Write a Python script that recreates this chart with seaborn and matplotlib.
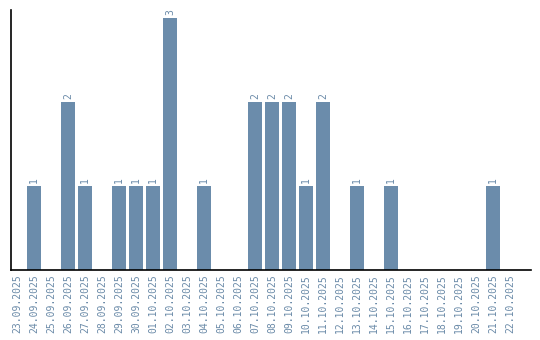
import matplotlib
matplotlib.use("Agg")
import matplotlib.pyplot as plt
import seaborn as sns
import pandas as pd

dates = ["23.09.2025", "24.09.2025", "25.09.2025", "26.09.2025", "27.09.2025", "28.09.2025",
         "29.09.2025", "30.09.2025", "01.10.2025", "02.10.2025", "03.10.2025", "04.10.2025",
         "05.10.2025", "06.10.2025", "07.10.2025", "08.10.2025", "09.10.2025", "10.10.2025",
         "11.10.2025", "12.10.2025", "13.10.2025", "14.10.2025", "15.10.2025", "16.10.2025",
         "17.10.2025", "18.10.2025", "19.10.2025", "20.10.2025", "21.10.2025", "22.10.2025"]
counts = [0, 1, 0, 2, 1, 0, 1, 1, 1, 3, 0, 1, 0, 0, 2, 2, 2, 1, 2, 0, 1, 0, 1, 0, 0, 0, 0, 0, 1, 0]

df = pd.DataFrame({"date": dates, "count": counts})

sns.set_style("white")
plt.rcParams["font.family"] = ["DejaVu Sans Mono", "DejaVu Sans"]

color = "#6b8cab"
fig = plt.figure(figsize=(5.4, 3.4), dpi=100)
ax = fig.add_axes([10.5 / 540, 1 - 270 / 340, 520 / 540, 260 / 340])
sns.barplot(data=df, x="date", y="count", color=color, saturation=1, width=14 / 17,
            linewidth=0, edgecolor="none", ax=ax)

for i, v in enumerate(counts):
    if v > 0:
        ax.text(i, v + 0.03, str(v), rotation=90, ha="center", va="bottom",
                fontsize=7, color="#6a8aa8")

ax.set_ylim(0, 3.095)
ax.set_xlim(-0.38, 30.2)
ax.set_yticks([])
ax.set_xlabel("")
ax.set_ylabel("")
ax.tick_params(axis="x", labelrotation=90, labelsize=7, colors="#6a8aa8", length=0, pad=3)
for s in ["top", "right"]:
    ax.spines[s].set_visible(False)
for s in ["left", "bottom"]:
    ax.spines[s].set_color("black")
    ax.spines[s].set_linewidth(1.2)

fig.savefig("out.png", dpi=100)
